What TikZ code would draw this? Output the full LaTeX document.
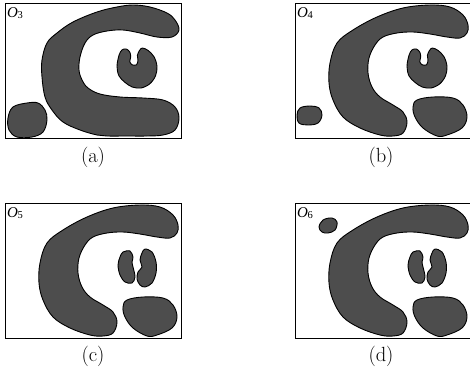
\documentclass[tikz,border=0pt]{standalone}
\usepackage{fontspec}
\newfontfamily\lblfont{Liberation Serif}
\definecolor{blobgray}{HTML}{4D4D4D}
\tikzset{
  blob/.style={fill=blobgray, draw=black, line width=0.9pt},
  panelframe/.style={draw=black, line width=0.8pt},
  captext/.style={font=\fontsize{20.5}{20.5}\selectfont, anchor=base, inner sep=0pt},
  olab/.style={anchor=base west, inner sep=0pt}
}
\newcommand{\olabel}[1]{{\lblfont\fontsize{15}{15}\selectfont\textit{O}\kern-0.3pt\raisebox{-1.2pt}{\fontsize{10.5}{10.5}\selectfont #1}}}
\newcommand{\shapeCa}{\draw[blob] plot[smooth cycle, tension=0.6] coordinates {(133,5) (150,7) (167,13) (175,20) (179,30) (172,37) (157,37) (140,33) (123,30) (107,31) (93,35) (85,43) (80,57) (79,70) (82,80) (88,88) (100,94) (120,97) (143,98) (163,100) (175,107) (179,118) (175,130) (163,135) (147,136) (127,136) (107,136) (97,135) (80,130) (63,122) (52,110) (45,97) (42,77) (42,60) (47,43) (57,33) (73,22) (97,12) (117,7)};}
\newcommand{\shapeCb}{\draw[blob] plot[smooth cycle, tension=0.6] coordinates {(140,5) (160,7) (173,15) (178,25) (177,33) (170,38) (157,37) (140,34) (123,32) (107,33) (93,37) (85,45) (79,58) (78,73) (82,87) (90,97) (103,105) (113,112) (117,122) (113,133) (103,136) (90,135) (70,128) (53,117) (43,100) (39,83) (40,63) (47,43) (63,30) (87,17) (113,8)};}
\newcommand{\shapeU}{\draw[blob] plot[smooth cycle, tension=0.55] coordinates {(119.0,55.3) (122.0,49.9) (126.3,49.0) (129.8,52.1) (130.7,56.9) (129.8,61.7) (132.2,64.8) (136.6,64.8) (138.0,60.1) (137.4,55.3) (139.5,50.5) (142.4,48.0) (148.2,50.5) (154.1,56.9) (157.0,66.4) (155.5,75.9) (149.7,83.9) (141.0,88.0) (132.2,87.0) (124.9,82.3) (119.0,75.9) (117.0,66.4)};}
\newcommand{\shapeKL}{\draw[blob] plot[smooth cycle, tension=0.55] coordinates {(123,52) (130,51) (133,57) (132,62) (133,67) (135,77) (132,83) (125,82) (120,75) (118,65) (120,57)};}
\newcommand{\shapeKR}{\draw[blob] plot[smooth cycle, tension=0.55] coordinates {(145,49) (152,52) (156,62) (156,73) (152,83) (145,87) (140,85) (137,79) (138,72) (142,67) (140,60) (142,53)};}
\newcommand{\shapeLR}{\draw[blob] plot[smooth cycle, tension=0.6] coordinates {(127,100) (143,97) (163,98) (173,105) (177,117) (172,128) (157,135) (147,136) (133,128) (125,117) (123,107)};}
\newcommand{\shapeBLa}{\draw[blob] plot[smooth cycle, tension=0.6] coordinates {(13,107) (27,103) (38,103) (45,110) (47,120) (43,132) (32,137) (17,137) (9,130) (8,118)};}
\newcommand{\shapeBLb}{\draw[blob] plot[smooth cycle, tension=0.6] coordinates {(10,108) (20,106) (29,108) (32,115) (28,123) (18,125) (9,123) (7,115)};}
\newcommand{\shapeTL}{\draw[blob] plot[smooth cycle, tension=0.6] coordinates {(33,20) (42,18) (47,22) (45,30) (38,33) (32,32) (29,27)};}
\begin{document}
\begin{tikzpicture}[x=1pt, y=-1pt]
\useasboundingbox (0,0) rectangle (470,380);
% panel (a)
\begin{scope}
  \draw[panelframe] (5,3) rectangle (181,138);
  \shapeCa \shapeU \shapeBLa
  \node[olab] (la) at (7,17) {\olabel{3}};
\end{scope}
\node[captext] (ca) at (93,162) {(a)};
% panel (b)
\begin{scope}[shift={(290,0)}]
  \draw[panelframe] (5,3) rectangle (183,138);
  \shapeCb \shapeU \shapeLR \shapeBLb
  \node[olab] (lb) at (7,17) {\olabel{4}};
\end{scope}
\node[captext] (cb) at (381,162) {(b)};
% panel (c)
\begin{scope}[shift={(0,200)}]
  \draw[panelframe] (5,3) rectangle (181,138);
  \shapeCb \shapeKL \shapeKR \shapeLR
  \node[olab] (lc) at (7,17) {\olabel{5}};
\end{scope}
\node[captext] (cc) at (93,361.5) {(c)};
% panel (d)
\begin{scope}[shift={(290,200)}]
  \draw[panelframe] (5,3) rectangle (183,138);
  \shapeCb \shapeKL \shapeKR \shapeLR \shapeTL
  \node[olab] (ld) at (7,17) {\olabel{6}};
\end{scope}
\node[captext] (cd) at (381,361.5) {(d)};
\end{tikzpicture}
\end{document}
